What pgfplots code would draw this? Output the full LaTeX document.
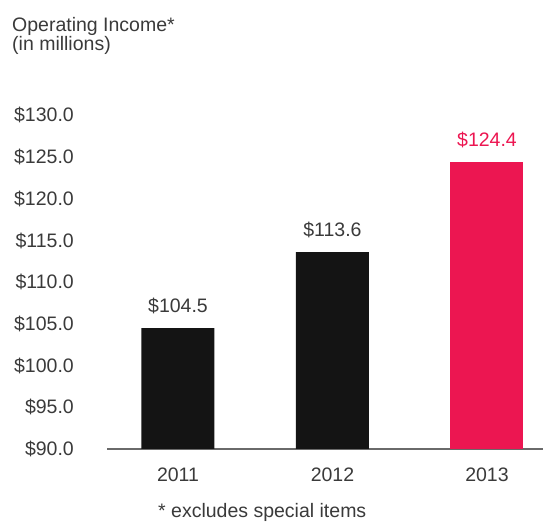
\documentclass[border=0pt]{standalone}
\usepackage{pgfplots}
\pgfplotsset{compat=1.18}
\usepackage{fontspec}
\setmainfont{Liberation Sans}
\definecolor{barblack}{HTML}{141414}
\definecolor{barpink}{HTML}{EC1651}
\definecolor{txtgray}{HTML}{3A3A3A}
\definecolor{linegray}{HTML}{6A6A6A}
\begin{document}
\begin{tikzpicture}
\path[use as bounding box] (0,0) rectangle (543bp,523bp);
\node[anchor=base west, inner sep=0pt, text=txtgray, font=\fontsize{19.5bp}{20bp}\selectfont] at (12bp,491.5bp) {Operating Income*};
\node[anchor=base west, inner sep=0pt, text=txtgray, font=\fontsize{19.5bp}{20bp}\selectfont] at (12bp,472bp) {(in millions)};
\node[anchor=base west, inner sep=0pt, text=txtgray, font=\fontsize{19.5bp}{20bp}\selectfont] at (158bp,6bp) {* excludes special items};
\begin{axis}[
  at={(107bp,74bp)}, anchor=south west,
  scale only axis,
  width=436bp, height=333.6bp,
  xmin=-0.4595, xmax=2.3625,
  ymin=90, ymax=130,
  ytick={90,95,...,130},
  xtick={0,1,2},
  xticklabels={2011,2012,2013},
  yticklabel={\$\pgfmathprintnumber[fixed,fixed zerofill,precision=1,assume math mode=true]{\tick}},
  major tick length=0pt,
  axis lines*=left,
  axis line style={-},
  y axis line style={draw=none},
  x axis line style={draw=linegray, line width=1.5bp},
  tick label style={font=\fontsize{19.5bp}{20bp}\selectfont, text=txtgray},
  yticklabel style={anchor=east, inner sep=0pt, xshift=-33bp},
  xticklabel style={anchor=north, inner sep=0pt, yshift=-19bp},
  ybar, bar width=73bp,
  clip=false,
  nodes near coords,
  point meta=explicit symbolic,
  every node near coord/.append style={font=\fontsize{19.5bp}{20bp}\selectfont, anchor=south, inner sep=0pt, yshift=14bp},
]
\addplot[fill=barblack, draw=none, bar shift=0pt, nodes near coords style={text=txtgray}]
  coordinates {(0,104.5) [\$104.5] (1,113.6) [\$113.6]};
\addplot[fill=barpink, draw=none, bar shift=0pt, nodes near coords style={text=barpink}]
  coordinates {(2,124.4) [\$124.4]};
\end{axis}
\end{tikzpicture}
\end{document}
